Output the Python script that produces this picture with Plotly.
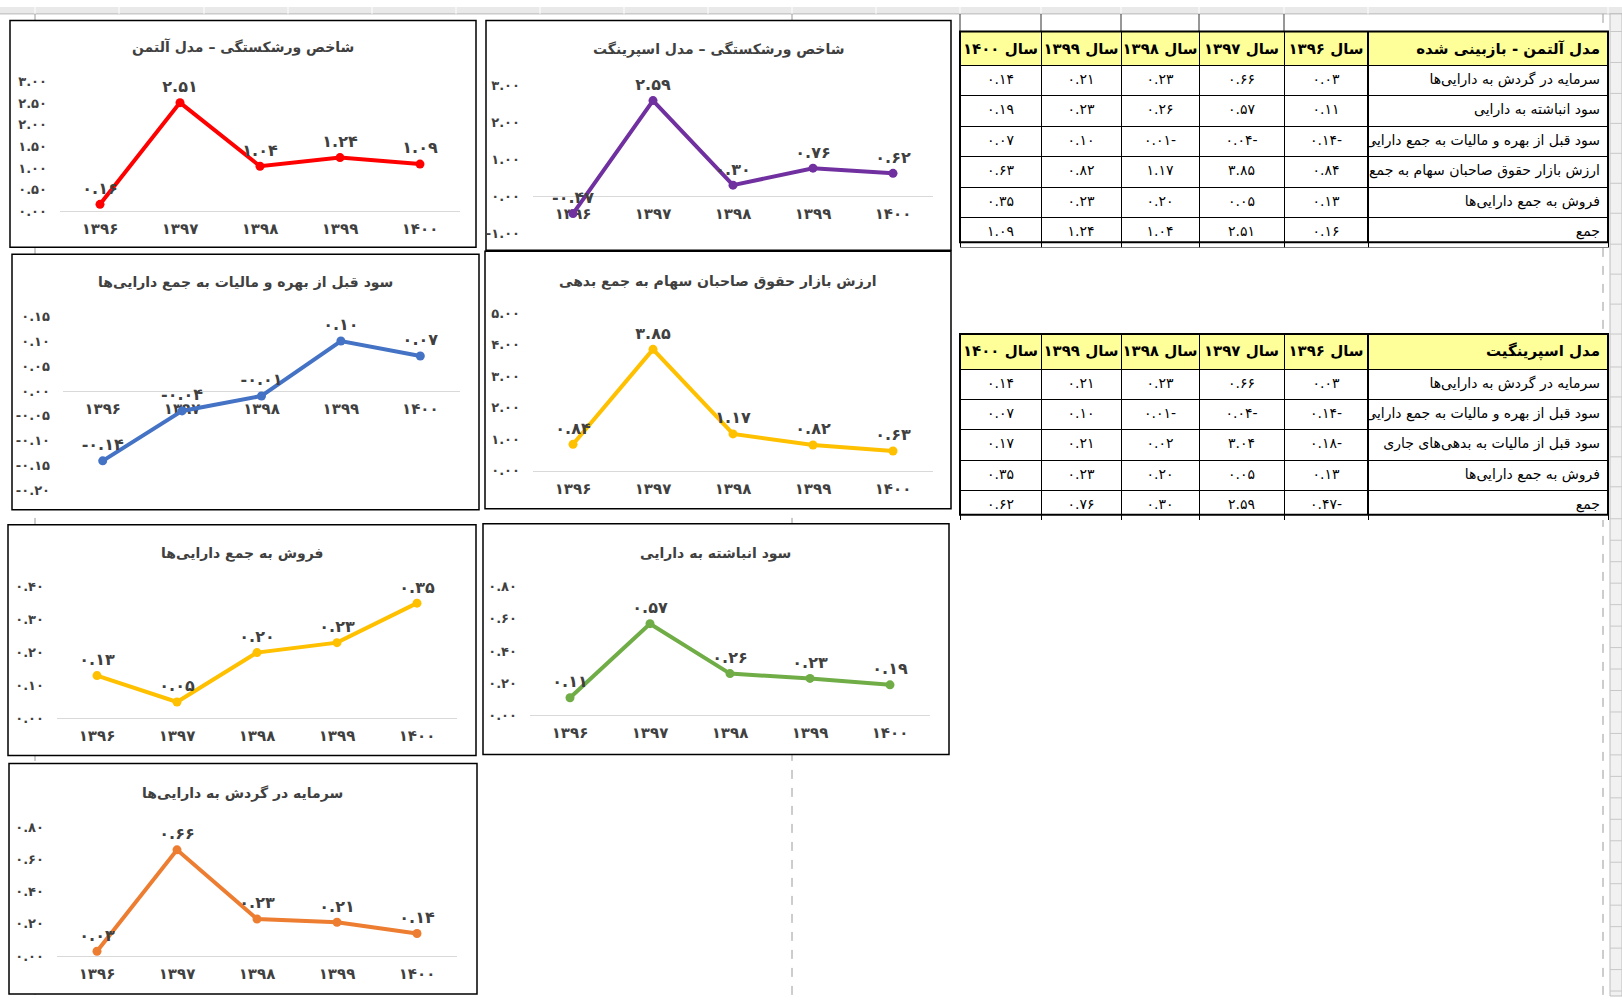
import plotly.graph_objects as go

W, H = 1622, 1004

# years shown on every chart (Persian digits)
years = ["۱۳۹۶", "۱۳۹۷", "۱۳۹۸", "۱۳۹۹", "۱۴۰۰"]
table_years = ["سال ۱۴۰۰", "سال ۱۳۹۹", "سال ۱۳۹۸", "سال ۱۳۹۷", "سال ۱۳۹۶"]

# ratios, one value per year (1396 .. 1400)
working_capital = [0.03, 0.66, 0.23, 0.21, 0.14]
retained_earnings = [0.11, 0.57, 0.26, 0.23, 0.19]
ebit = [-0.14, -0.04, -0.01, 0.10, 0.07]
market_equity = [0.84, 3.85, 1.17, 0.82, 0.63]
sales = [0.13, 0.05, 0.20, 0.23, 0.35]
altman_total = [0.16, 2.51, 1.04, 1.24, 1.09]
ebt_current = [-0.18, 3.04, 0.02, 0.21, 0.17]
springate_total = [-0.47, 2.59, 0.30, 0.76, 0.62]

altman_header = "مدل آلتمن - بازبینی شده"
altman_labels = ["سرمایه در گردش به دارایی‌ها", "سود انباشته به دارایی",
                 "سود قبل از بهره و مالیات به جمع دارایی‌ها",
                 "ارزش بازار حقوق صاحبان سهام به جمع بدهی",
                 "فروش به جمع دارایی‌ها", "جمع"]
altman_rows = [working_capital, retained_earnings, ebit, market_equity, sales, altman_total]

springate_header = "مدل اسپرینگیت"
springate_labels = ["سرمایه در گردش به دارایی‌ها",
                    "سود قبل از بهره و مالیات به جمع دارایی‌ها",
                    "سود قبل از مالیات به بدهی‌های جاری",
                    "فروش به جمع دارایی‌ها", "جمع"]
springate_rows = [working_capital, ebit, ebt_current, sales, springate_total]

FONT = "DejaVu Sans"
INK = "#404040"
FA = str.maketrans("0123456789", "۰۱۲۳۴۵۶۷۸۹")


def fa(s):
    return s.translate(FA)


def fa_num(v):
    return fa(f"{round(v, 4) + 0.0:.2f}")


def fa_cell(v):
    # excel right-to-left sheet puts the minus sign after the number
    s = fa(f"{abs(v):.2f}")
    return s + "-" if v < 0 else s


def nowrap(s):
    # table cells wrap on spaces, excel does not
    return s.replace(" ", "\u00a0")


def ty(y):
    # small vertical stretch measured against the screenshot
    return 555 + (y - 555) * 1.0136


def px(x):
    return x / W


def py(y):
    return 1 - ty(y) / H


# chart boxes (pixels): frame, plot x span, y pixel of ymin / ymax, y range, tick step, title centre
charts = [
    dict(title="شاخص ورشکستگی – مدل آلتمن", values=altman_total, color="#FF0000",
         frame=(10, 21, 476, 248), xs=(60, 460), ys=(212, 82), yr=(0, 3), dt=0.5, tpos=(243, 48)),
    dict(title="شاخص ورشکستگی – مدل اسپرینگت", values=springate_total, color="#7030A0",
         frame=(486, 21, 951, 251), xs=(533, 933), ys=(234, 86), yr=(-1, 3), dt=1, tpos=(718, 50)),
    dict(title="سود قبل از بهره و مالیات به جمع دارایی‌ها", values=ebit, color="#4472C4",
         frame=(12, 255, 479, 511), xs=(63, 460), ys=(492, 317), yr=(-0.2, 0.15), dt=0.05, tpos=(245, 283)),
    dict(title="ارزش بازار حقوق صاحبان سهام به جمع بدهی", values=market_equity, color="#FFC000",
         frame=(485, 252, 951, 510), xs=(533, 933), ys=(472, 314), yr=(0, 5), dt=1, tpos=(718, 282)),
    dict(title="فروش به جمع دارایی‌ها", values=sales, color="#FFC000",
         frame=(8, 526, 476, 757), xs=(57, 457), ys=(720, 588), yr=(0, 0.4), dt=0.1, tpos=(242, 555)),
    dict(title="سود انباشته به دارایی", values=retained_earnings, color="#70AD47",
         frame=(483, 525, 949, 756), xs=(530, 930), ys=(717, 588), yr=(0, 0.8), dt=0.2, tpos=(715, 555)),
    dict(title="سرمایه در گردش به دارایی‌ها", values=working_capital, color="#ED7D31",
         frame=(9, 765, 477, 996), xs=(57, 457), ys=(958, 829), yr=(0, 0.8), dt=0.2, tpos=(242, 795)),
]

fig = go.Figure()
shapes = []
annotations = []
layout_axes = {}

# excel sheet decoration: column header strip, page breaks, row header strip
col_edges = [35, 119, 204, 288, 372, 456, 540, 624, 708, 792, 876, 960, 1041, 1121, 1199, 1284, 1368, 1608]
strip = 1 - 7 / H
shapes.append(dict(type="rect", xref="paper", yref="paper", x0=0, x1=1, y0=strip, y1=1,
                   fillcolor="#E9E9E9", line=dict(width=0), layer="below"))
shapes.append(dict(type="line", xref="paper", yref="paper", x0=0, x1=1, y0=strip, y1=strip,
                   line=dict(color="#B8B8B8", width=1), layer="below"))
for cx in col_edges:
    shapes.append(dict(type="line", xref="paper", yref="paper", x0=px(cx), x1=px(cx), y0=strip, y1=1,
                       line=dict(color="#FFFFFF", width=1), layer="below"))
for bx in (35, 792, 1603):
    shapes.append(dict(type="line", xref="paper", yref="paper", x0=px(bx), x1=px(bx), y0=strip, y1=0,
                       line=dict(color="#9A9A9A", width=1, dash="dash"), layer="below"))
shapes.append(dict(type="rect", xref="paper", yref="paper", x0=px(1610), x1=1, y0=0, y1=strip,
                   fillcolor="#F1F1F1", line=dict(color="#BDBDBD", width=1), layer="below"))
row_edges = [32, 63, 94, 124, 154, 184, 214, 245, 275, 305, 335, 368, 398, 428, 458, 488, 520]
y = 520
while y < H:
    y += 21.5
    row_edges.append(y)
for ry in row_edges:
    shapes.append(dict(type="line", xref="paper", yref="paper", x0=px(1610), x1=1, y0=py(ry), y1=py(ry),
                       line=dict(color="#C8C8C8", width=1), layer="below"))
# empty bordered cells above the first table
for cx in (960, 1041, 1121, 1199, 1284):
    shapes.append(dict(type="line", xref="paper", yref="paper", x0=px(cx), x1=px(cx), y0=strip, y1=py(32),
                       line=dict(color="#303030", width=1), layer="below"))

for i, c in enumerate(charts, start=1):
    fx0, fy0, fx1, fy1 = c["frame"]
    shapes.append(dict(type="rect", xref="paper", yref="paper", x0=px(fx0), x1=px(fx1), y0=py(fy1), y1=py(fy0),
                       fillcolor="white", line=dict(color="black", width=1.5), layer="below"))
    ymin, ymax = c["yr"]
    ylo, yhi = py(c["ys"][0]), py(c["ys"][1])
    zero_pos = ylo + (0 - ymin) / (ymax - ymin) * (yhi - ylo)
    n = round((ymax - ymin) / c["dt"])
    tickvals = [round(ymin + k * c["dt"], 4) for k in range(n + 1)]
    sx = "" if i == 1 else str(i)

    fig.add_trace(go.Scatter(
        x=years, y=c["values"], mode="lines+markers+text",
        text=[fa_num(v) for v in c["values"]], textposition="top center",
        textfont=dict(family=FONT, size=16, color=INK, weight="bold"),
        line=dict(color=c["color"], width=4), marker=dict(color=c["color"], size=9),
        cliponaxis=False, showlegend=False, hoverinfo="skip",
        xaxis="x" + sx, yaxis="y" + sx,
    ))
    layout_axes["xaxis" + sx] = dict(
        domain=[px(c["xs"][0]), px(c["xs"][1])], type="category", range=[-0.5, 4.5],
        anchor="free", position=zero_pos, showline=True, linecolor="#D9D9D9", linewidth=1,
        showgrid=False, zeroline=False, ticks="", ticklabelstandoff=4, layer="below traces",
        tickfont=dict(family=FONT, size=15, color=INK, weight="bold"), fixedrange=True,
    )
    layout_axes["yaxis" + sx] = dict(
        domain=[ylo, yhi], range=[ymin, ymax], anchor="x" + sx,
        tickvals=tickvals, ticktext=[fa_num(v) for v in tickvals],
        showgrid=False, zeroline=False, showline=False, ticks="", ticklabelstandoff=12,
        tickfont=dict(family=FONT, size=13, color=INK, weight="bold"), fixedrange=True,
    )
    annotations.append(dict(xref="paper", yref="paper", x=px(c["tpos"][0]), y=py(c["tpos"][1]),
                            text="<b>" + c["title"] + "</b>", showarrow=False,
                            xanchor="center", yanchor="middle",
                            font=dict(family=FONT, size=14, color=INK)))


def add_table(header, labels, rows, top):
    columns = []
    for k in range(4, -1, -1):
        columns.append([fa_cell(r[k]) for r in rows])
    columns.append([nowrap(t) for t in labels])
    bottom = top + 31 + 30 * len(rows)
    head_h = ty(top + 31) - ty(top)
    row_h = (ty(bottom) - ty(top + 31)) / len(rows)
    fig.add_trace(go.Table(
        domain=dict(x=[px(960), px(1608)], y=[py(bottom + 6), py(top)]),
        columnwidth=[81, 80, 78, 85, 84, 240],
        header=dict(values=["<b>" + nowrap(t) + "</b>" for t in table_years + [header]],
                    fill_color="#FFFF99", line=dict(color="black", width=1),
                    align=["center"] * 5 + ["right"], height=head_h,
                    font=dict(family=FONT, size=15, color="black")),
        cells=dict(values=columns, fill_color="white", line=dict(color="black", width=1),
                   align=["center"] * 5 + ["right"], height=row_h,
                   font=dict(family=FONT, size=14, color="black")),
    ))
    shapes.append(dict(type="rect", xref="paper", yref="paper", x0=px(960), x1=px(1608),
                       y0=py(bottom), y1=py(top), line=dict(color="black", width=2), layer="above"))
    shapes.append(dict(type="line", xref="paper", yref="paper", x0=px(1368), x1=px(1368),
                       y0=py(bottom), y1=py(top), line=dict(color="black", width=2), layer="above"))


add_table(altman_header, altman_labels, altman_rows, 32)
add_table(springate_header, springate_labels, springate_rows, 335)

fig.update_layout(
    width=W, height=H, margin=dict(l=0, r=0, t=0, b=0),
    paper_bgcolor="white", plot_bgcolor="rgba(0,0,0,0)",
    font=dict(family=FONT), shapes=shapes, annotations=annotations,
    **layout_axes,
)

fig.write_html("out.html", config={"displayModeBar": False},
               post_script="document.body.style.margin='0';document.body.style.overflow='hidden';")
